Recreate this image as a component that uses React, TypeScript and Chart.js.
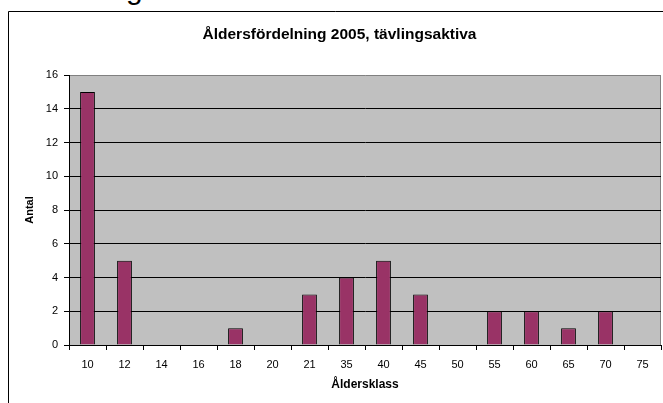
import React, { useEffect, useRef } from "react";
import { Chart, registerables } from "chart.js";

Chart.register(...registerables);

const categories = ["10", "12", "14", "16", "18", "20", "21", "35", "40", "45", "50", "55", "60", "65", "70", "75"];
const antal = [15, 5, 0, 0, 1, 0, 3, 4, 5, 3, 0, 2, 2, 1, 2, 0];
const chartTitle = "Åldersfördelning 2005, tävlingsaktiva";
const xTitle = "Åldersklass";
const yTitle = "Antal";

const FONT = "'Liberation Sans', Arial, sans-serif";

const plotBg = {
  id: "plotBg",
  beforeDraw(chart: any) {
    const { ctx, chartArea } = chart;
    ctx.save();
    // outer frame
    ctx.strokeStyle = "#000";
    ctx.lineWidth = 1;
    ctx.beginPath();
    ctx.moveTo(8.5, chart.height);
    ctx.lineTo(8.5, 11.5);
    ctx.lineTo(chart.width, 11.5);
    ctx.stroke();
    // plot area
    ctx.fillStyle = "#C0C0C0";
    ctx.fillRect(chartArea.left, chartArea.top, chartArea.right - chartArea.left, chartArea.bottom - chartArea.top);
    ctx.strokeStyle = "#808080";
    ctx.beginPath();
    ctx.moveTo(chartArea.right - 0.5, chartArea.top);
    ctx.lineTo(chartArea.right - 0.5, chartArea.bottom);
    ctx.stroke();
    ctx.restore();
  },
};

export default function App() {
  const ref = useRef<HTMLCanvasElement>(null);
  useEffect(() => {
    document.body.style.margin = "0";
    const chart = new Chart(ref.current!, {
      type: "bar",
      data: {
        labels: categories,
        datasets: [
          {
            data: antal,
            backgroundColor: "#993366",
            borderColor: "#000000",
            borderWidth: 1,
            barPercentage: 0.4,
            categoryPercentage: 1,
          },
        ],
      },
      options: {
        responsive: false,
        animation: false,
        devicePixelRatio: 1,
        layout: { padding: { left: 18, right: 2, top: 11, bottom: 0 } },
        plugins: {
          legend: { display: false },
          tooltip: { enabled: false },
          title: {
            display: true,
            text: chartTitle,
            color: "#000",
            font: { family: FONT, size: 15.5, weight: "bold" },
            padding: { top: 14, bottom: 31.4 },
          },
        },
        scales: {
          x: {
            offset: true,
            grid: { drawOnChartArea: false, drawTicks: true, tickLength: 5, color: "#000", offset: true },
            border: { display: true, color: "#000" },
            ticks: { color: "#000", font: { family: FONT, size: 11 }, padding: 8, maxRotation: 0, autoSkip: false },
            title: { display: true, text: xTitle, color: "#000", font: { family: FONT, size: 12, weight: "bold" }, padding: { top: 0, bottom: 11 } },
            afterFit(scale: any) {
              scale.height = 58;
            },
          },
          y: {
            min: 0,
            max: 16,
            ticks: { stepSize: 2, color: "#000", font: { family: FONT, size: 11 }, padding: 6 },
            grid: {
              color: (c: any) => (c.tick && c.tick.value === 16 ? "#808080" : "#000"),
              tickColor: "#000",
              tickLength: 5,
            },
            border: { display: true, color: "#000" },
            title: { display: true, text: yTitle, color: "#000", font: { family: FONT, size: 11, weight: "bold" }, padding: { top: 5, bottom: 0 } },
            afterFit(scale: any) {
              scale.width = 51;
            },
          },
        },
      },
      plugins: [plotBg],
    });
    return () => chart.destroy();
  }, []);
  return (
    <div style={{ position: "relative", width: 663, height: 403, overflow: "hidden", background: "#fff" }}>
      <span
        style={{
          position: "absolute",
          left: 126,
          top: -26,
          fontFamily: FONT,
          fontSize: 30,
          lineHeight: "30px",
          color: "#000",
        }}
      >
        g
      </span>
      <canvas ref={ref} width={663} height={403} style={{ display: "block", position: "absolute", left: 0, top: 0 }} />
    </div>
  );
}
